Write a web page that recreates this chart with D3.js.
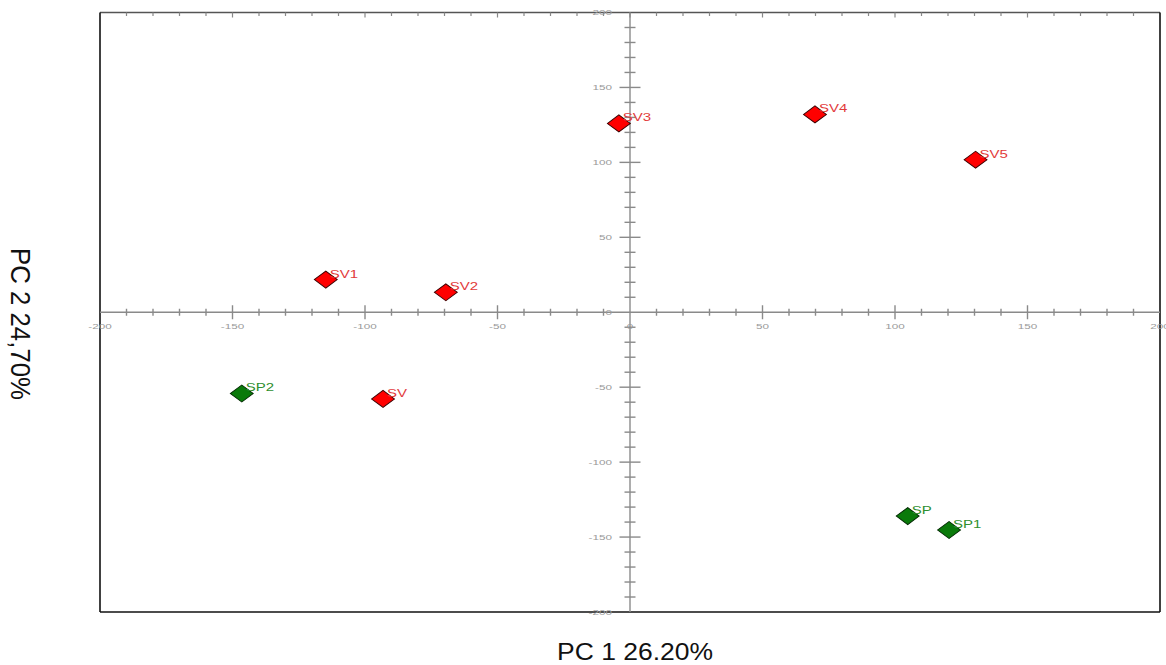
<!DOCTYPE html>
<html>
<head>
<meta charset="utf-8">
<script src="https://cdn.jsdelivr.net/npm/d3@7"></script>
<style>
  html, body { margin: 0; padding: 0; background: #fff; }
  svg { display: block; }
  text { font-family: Arial, "Liberation Sans", sans-serif; }
</style>
</head>
<body>
<svg id="chart" width="1166" height="665"></svg>
<script>
// Sample scores on the first two principal components
const samples = ["SV", "SV1", "SV2", "SV3", "SV4", "SV5", "SP", "SP1", "SP2"];
const pc1 = [-93.2, -114.8, -69.5, -4.2, 69.8, 130.4, 104.8, 120.4, -146.5];
const pc2 = [-57.8, 21.8, 13.3, 126, 132, 101.8, -136, -145.3, -54.2];
const groups = ["SV", "SV", "SV", "SV", "SV", "SV", "SP", "SP", "SP"];

const majorTicks = [-200, -150, -100, -50, 0, 50, 100, 150, 200];
const xTitle = "PC 1 26.20%";
const yTitle = "PC 2 24,70%";

const fillColor = { SV: "#ff0000", SP: "#0a7a0a" };
const strokeColor = { SV: "#3a0000", SP: "#002800" };
const labelColor = { SV: "#e23a3a", SP: "#2f8f2f" };

const svg = d3.select("#chart");
const plotLeft = 100, plotRight = 1160, plotTop = 12.5, plotBottom = 612;

const x = d3.scaleLinear().domain([-200, 200]).range([plotLeft, plotRight]);
const y = d3.scaleLinear().domain([-200, 200]).range([plotBottom, plotTop]);

const minorTicks = d3.range(-200, 201, 10).filter(v => v % 50 !== 0);
const x0 = x(0), y0 = y(0);

// frame
const frame = svg.append("g");
frame.append("line").attr("x1", plotLeft).attr("x2", plotRight).attr("y1", plotTop).attr("y2", plotTop)
  .attr("stroke", "#555").attr("stroke-width", 1.3);
frame.append("line").attr("x1", plotLeft).attr("x2", plotLeft).attr("y1", plotTop).attr("y2", plotBottom)
  .attr("stroke", "#111").attr("stroke-width", 1.6);
frame.append("line").attr("x1", plotRight).attr("x2", plotRight).attr("y1", plotTop).attr("y2", plotBottom)
  .attr("stroke", "#111").attr("stroke-width", 1.6);
frame.append("line").attr("x1", plotLeft).attr("x2", plotRight).attr("y1", plotBottom).attr("y2", plotBottom)
  .attr("stroke", "#111").attr("stroke-width", 1.6);

// small ticks hanging from the top edge
frame.selectAll("line.topTick").data(d3.range(-190, 200, 10)).join("line")
  .attr("class", "topTick")
  .attr("x1", d => x(d)).attr("x2", d => x(d))
  .attr("y1", plotTop).attr("y2", d => plotTop + (d % 50 === 0 ? 5 : 3.5))
  .attr("stroke", "#888").attr("stroke-width", 1.2);

// crossing axes through the origin
const axes = svg.append("g").attr("stroke", "#8a8a8a").attr("stroke-width", 1.4);
axes.append("line").attr("x1", plotLeft).attr("x2", plotRight).attr("y1", y0).attr("y2", y0);
axes.append("line").attr("x1", x0).attr("x2", x0).attr("y1", plotTop).attr("y2", plotBottom);

// x axis ticks
axes.selectAll("line.xMinor").data(minorTicks).join("line")
  .attr("class", "xMinor")
  .attr("x1", d => x(d)).attr("x2", d => x(d))
  .attr("y1", y0 - 3.5).attr("y2", y0 + 3.5);
axes.selectAll("line.xMajor").data(majorTicks.filter(d => d !== 0 && Math.abs(d) !== 200)).join("line")
  .attr("class", "xMajor")
  .attr("x1", d => x(d)).attr("x2", d => x(d))
  .attr("y1", y0 - 7).attr("y2", y0 + 7);

// y axis ticks
axes.selectAll("line.yMinor").data(minorTicks).join("line")
  .attr("class", "yMinor")
  .attr("x1", x0 - 5.5).attr("x2", x0 + 5.5)
  .attr("y1", d => y(d)).attr("y2", d => y(d));
axes.selectAll("line.yMajor").data(majorTicks.filter(d => d !== 0 && Math.abs(d) !== 200)).join("line")
  .attr("class", "yMajor")
  .attr("x1", x0 - 10.5).attr("x2", x0 + 10.5)
  .attr("y1", d => y(d)).attr("y2", d => y(d));

// tick labels (small, light, horizontally widened)
const tickLabels = svg.append("g").attr("fill", "#9a9a9a").attr("font-size", 7.8);
tickLabels.selectAll("text.xLab").data(majorTicks).join("text")
  .attr("class", "xLab")
  .attr("transform", d => `translate(${x(d)},${y0 + 17}) scale(1.5,1)`)
  .attr("text-anchor", "middle")
  .text(d => d);
tickLabels.selectAll("text.yLab").data(majorTicks).join("text")
  .attr("class", "yLab")
  .attr("transform", d => `translate(${x0 - 18},${y(d) + 2.8}) scale(1.5,1)`)
  .attr("text-anchor", "end")
  .text(d => d);

// sample markers
const pts = samples.map((s, i) => ({ name: s, px: pc1[i], py: pc2[i], g: groups[i] }));
const marks = svg.append("g");
marks.selectAll("path").data(pts).join("path")
  .attr("d", d3.symbol(d3.symbolSquare, 144))
  .attr("transform", d => `translate(${x(d.px)},${y(d.py)}) scale(1.35,1) rotate(45)`)
  .attr("fill", d => fillColor[d.g])
  .attr("stroke", d => strokeColor[d.g])
  .attr("stroke-width", 0.8);

marks.selectAll("text").data(pts).join("text")
  .attr("transform", d => `translate(${x(d.px) + 4},${y(d.py) - 2}) scale(1.5,1)`)
  .attr("font-size", 10)
  .attr("fill", d => labelColor[d.g])
  .text(d => d.name);

// axis titles
svg.append("text")
  .attr("x", 635).attr("y", 660)
  .attr("text-anchor", "middle")
  .attr("font-size", 23)
  .attr("fill", "#111")
  .attr("textLength", 156).attr("lengthAdjust", "spacingAndGlyphs")
  .text(xTitle);

svg.append("text")
  .attr("transform", "translate(11,324) scale(1.1,1) rotate(90)")
  .attr("text-anchor", "middle")
  .attr("font-size", 25.5)
  .attr("fill", "#111")
  .attr("textLength", 152).attr("lengthAdjust", "spacingAndGlyphs")
  .text(yTitle);
</script>
</body>
</html>
